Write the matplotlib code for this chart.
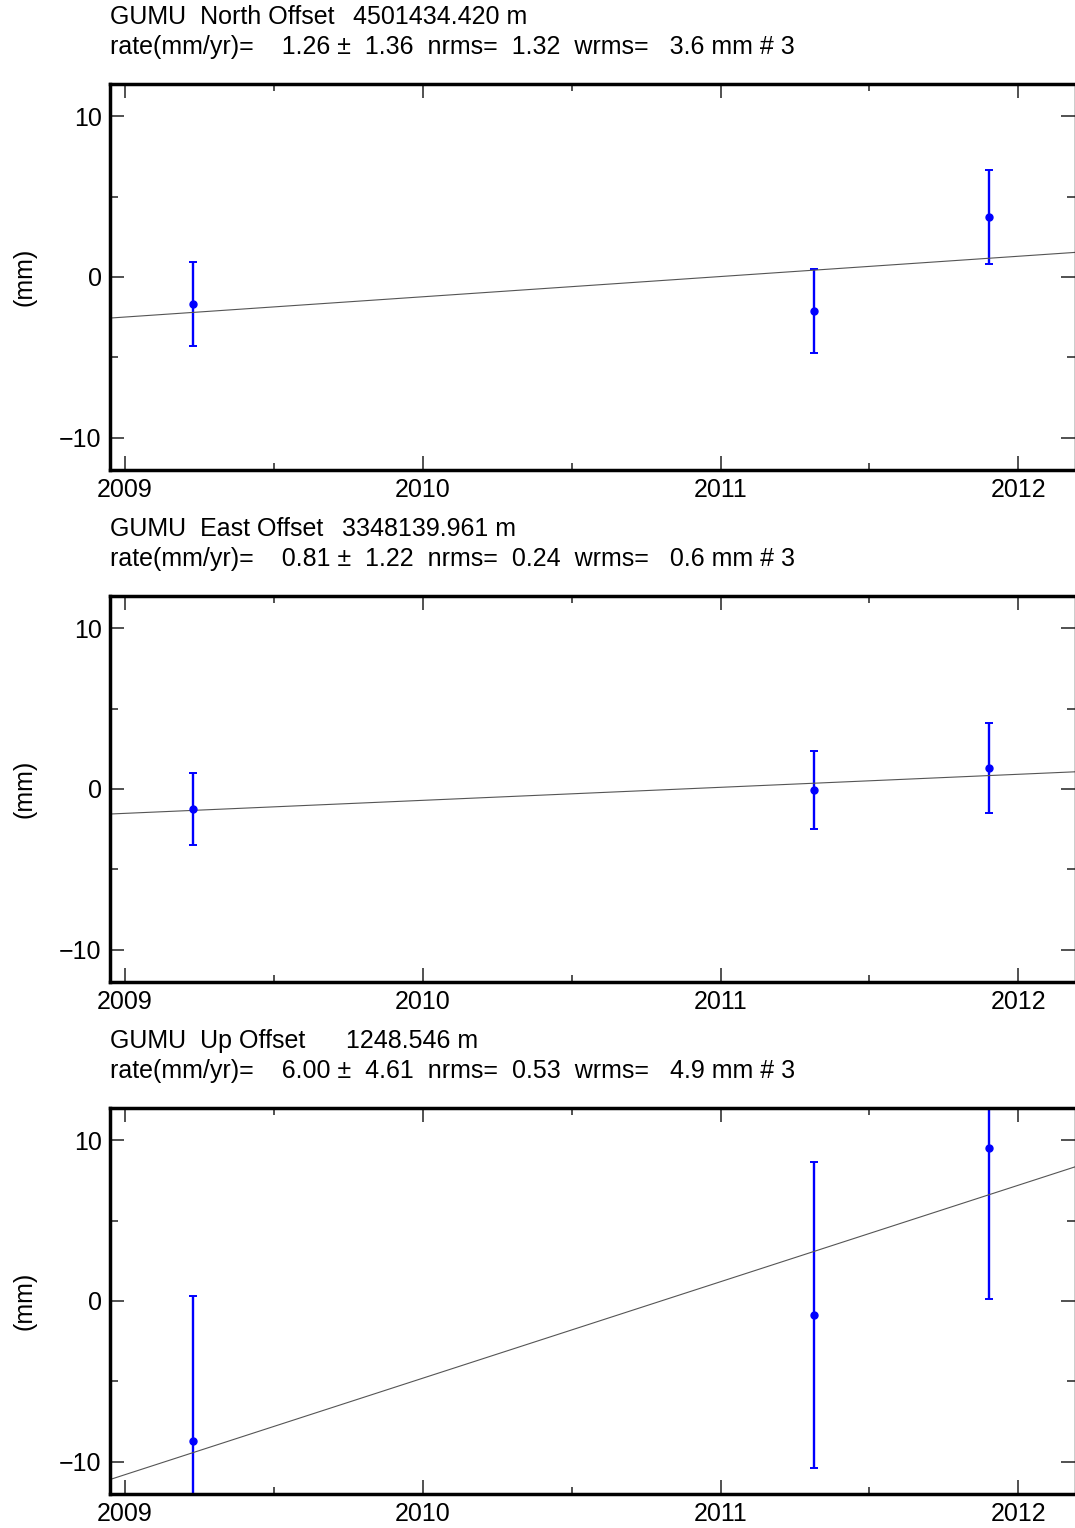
import matplotlib
matplotlib.use('Agg')
import matplotlib.pyplot as plt
from matplotlib.ticker import MultipleLocator
import numpy as np

plt.rcParams['font.family'] = ['Liberation Sans', 'DejaVu Sans']
plt.rcParams['font.size'] = 18

site = 'GUMU'
components = ['North', 'East', 'Up']
ref_pos = ['4501434.420', '3348139.961', '1248.546']
rates = [1.26, 0.81, 6.00]
rate_sig = [1.36, 1.22, 4.61]
nrms = [1.32, 0.24, 0.53]
wrms = [3.6, 0.6, 4.9]
n_obs = [3, 3, 3]

# epochs (decimal year) and residuals (mm)
times = [2009.228, 2011.315, 2011.90]
north = [-1.68, -2.11, 3.73]
north_err = [2.6, 2.6, 2.95]
east = [-1.24, -0.06, 1.30]
east_err = [2.24, 2.4, 2.8]
up = [-8.72, -0.87, 9.53]
up_err = [9.03, 9.53, 9.41]
# value of the fitted line at t0
t0 = 2010.5
line_mid = [-0.6, -0.3, -1.8]

vals = [north, east, up]
errs = [north_err, east_err, up_err]

fig = plt.figure(figsize=(10.75, 15.28), dpi=100)
W, H = 1075., 1528.
tops = [84, 596, 1108]
axh = 386
pos_x = [353, 342, 346]  # where the reference coordinate is printed

for i, comp in enumerate(components):
    top = tops[i]
    ax = fig.add_axes([110/W, 1 - (top + axh)/H, 965/W, axh/H])
    ax.errorbar(times, vals[i], yerr=errs[i], fmt='o', color='#0000ff',
                ms=5, lw=1.7, capsize=3, capthick=1.4)
    ax.axline((t0, line_mid[i]), slope=rates[i], color='#555555', lw=0.8)
    ax.set_xlim(2008.95, 2012.19)
    ax.set_ylim(-12, 12)
    ax.xaxis.set_major_locator(MultipleLocator(1))
    ax.xaxis.set_minor_locator(MultipleLocator(0.5))
    ax.yaxis.set_major_locator(MultipleLocator(10))
    ax.yaxis.set_minor_locator(MultipleLocator(5))
    ax.tick_params(which='both', direction='in', top=True, right=True,
                   color='#333333', width=1.2)
    ax.tick_params(which='major', length=10, pad=6)
    ax.tick_params(which='minor', length=6)
    ax.tick_params(axis='x', which='minor', length=5)
    for s in ['left', 'bottom', 'top']:
        ax.spines[s].set_linewidth(2.5)
    ax.spines['right'].set_linewidth(1.0)
    ax.set_xticks([2009, 2010, 2011, 2012])
    ax.set_xticklabels(['2009', '2010', '2011', '2012'])

    fig.text(25/W, 1 - (top + axh/2)/H, '(mm)', rotation=90,
             ha='center', va='center', fontsize=18)
    fig.text(110/W, 1 - (top - 67)/H,
             '{}  {} Offset'.format(site, comp), ha='left', va='center')
    fig.text(pos_x[i]/W, 1 - (top - 67)/H, '{} m'.format(ref_pos[i]),
             ha='left', va='center')
    line2 = 'rate(mm/yr)=    {:.2f} \u00b1  {:.2f}  nrms=  {:.2f}  wrms=   {:.1f} mm # {}'.format(
        rates[i], rate_sig[i], nrms[i], wrms[i], n_obs[i])
    fig.text(110/W, 1 - (top - 37)/H, line2, ha='left', va='center')

plt.savefig('out.png', dpi=100)
